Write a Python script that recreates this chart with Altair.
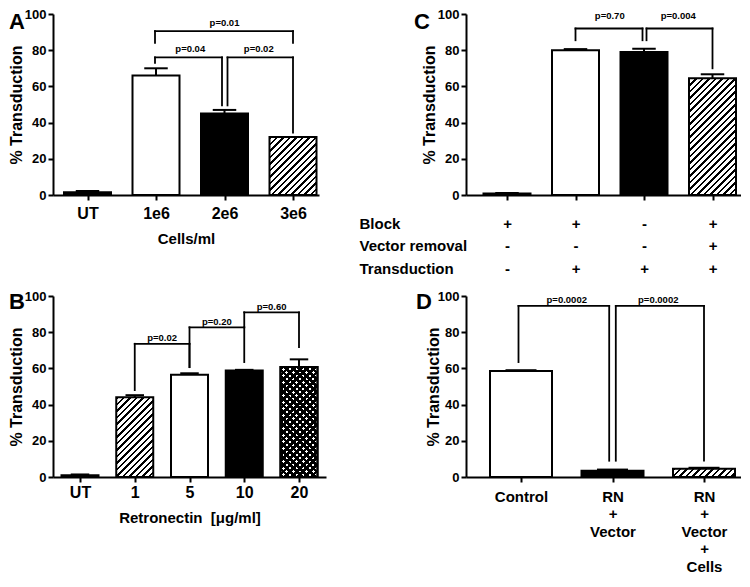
import json
import altair as alt
import pandas as pd

FONT = "Liberation Sans"

# ---------------- data ----------------
# Panel A
a_cats = ["UT", "1e6", "2e6", "3e6"]
a_vals = [1.5, 66.0, 45.0, 32.0]
a_errs = [0.7, 4.0, 2.0, 0.0]
a_fill = ["black", "white", "black", "hatch"]
a_br_from = [1, 2, 1]
a_br_to = [2, 3, 3]
a_br_top = [76.0, 76.0, 90.5]
a_br_left = [73.0, 49.5, 84.0]
a_br_right = [49.5, 34.5, 84.0]
a_br_text = ["p=0.04", "p=0.02", "p=0.01"]

# Panel B
b_cats = ["UT", "1", "5", "10", "20"]
b_vals = [1.0, 44.0, 56.5, 58.8, 60.8]
b_errs = [0.4, 1.2, 0.8, 0.4, 4.2]
b_fill = ["black", "hatch", "white", "black", "cross"]
b_br_from = [1, 2, 3]
b_br_to = [2, 3, 4]
b_br_top = [73.6, 82.7, 91.0]
b_br_left = [48.0, 60.7, 82.7]
b_br_right = [60.7, 63.5, 71.7]
b_br_text = ["p=0.02", "p=0.20", "p=0.60"]

# Panel C
c_rows = ["Block", "Vector removal", "Transduction"]
c_block = ["+", "+", "-", "+"]
c_removal = ["-", "-", "-", "+"]
c_trans = ["-", "+", "+", "+"]
c_vals = [0.8, 80.0, 79.0, 64.5]
c_errs = [0.3, 0.6, 1.8, 2.2]
c_fill = ["black", "white", "black", "hatch"]
c_br_from = [1, 2]
c_br_to = [2, 3]
c_br_top = [92.0, 92.0]
c_br_left = [85.5, 85.5]
c_br_right = [85.5, 70.0]
c_br_text = ["p=0.70", "p=0.004"]

# Panel D
d_cats = [["Control"], ["RN", "+", "Vector"], ["RN", "+", "Vector", "+", "Cells"]]
d_vals = [58.5, 3.5, 4.5]
d_errs = [0.5, 0.6, 0.6]
d_fill = ["white", "black", "hatch"]
d_br_from = [0, 1]
d_br_to = [1, 2]
d_br_top = [94.5, 94.5]
d_br_left = [63.5, 9.0]
d_br_right = [9.0, 9.0]
d_br_text = ["p=0.0002", "p=0.0002"]

# ---------------- layout / style ----------------
H = 181

STYLE = {
    "A": dict(width=266, first=34.5, step=68.5, half=23.5,
              legs=[(-1, -2.5), (3, 0), (-1, 0)], pdy=-5,
              letter=(-44, 15), ytx=-37, lab_fs=16, lab_pad=5.4, lab_lh=16,
              xtitle="Cells/ml", xtitle_y=48),
    "B": dict(width=273, first=27, step=54.75, half=18.5,
              legs=[(0, 0), (0, 0), (0, 0)], pdy=-2.5,
              letter=(-44, 13), ytx=-37, lab_fs=16, lab_pad=2.4, lab_lh=16,
              xtitle="Retronectin \u00a0[\u03bcg/ml]", xtitle_y=45),
    "C": dict(width=275, first=41, step=68.5, half=23.5,
              legs=[(0, -1.5), (2.5, 0)], pdy=-9,
              letter=(-52, 15), ytx=-37, lab_fs=15, lab_pad=16.2, lab_lh=22.5,
              xtitle=c_rows, xtitle_y=33),
    "D": dict(width=275, first=55, step=91.5, half=31,
              legs=[(-2.5, -3.3), (3.3, 0)], pdy=-3,
              letter=(-50, 13), ytx=-32.5, lab_fs=15, lab_pad=7.2, lab_lh=17.5,
              xtitle=None, xtitle_y=0),
}


def hatch_gradient(w, h, direction, period, frac, ink, paper):
    L = w + h
    stops = []
    k = 0
    while k * period < L:
        a = k * period / L
        b = min((k * period + frac * period) / L, 1.0)
        c = min((k + 1) * period / L, 1.0)
        stops += [(a, ink), (b, ink), (b, paper), (c, paper)]
        k += 1
    denom = w * w + h * h
    if direction == "/":
        x1, y1, x2, y2 = 0, 0, w * L / denom, h * L / denom
    else:
        x1, y1, x2, y2 = 0, 1, w * L / denom, 1 - h * L / denom
    return alt.LinearGradient(
        gradient="linear", x1=x1, y1=y1, x2=x2, y2=y2,
        stops=[alt.GradientStop(offset=o, color=col) for o, col in stops],
    )


def panel(key, labels, vals, errs, fills, br_from, br_to, br_top, br_left,
          br_right, br_text):
    S = STYLE[key]
    n = len(vals)
    step = S["step"]
    lo = -S["first"] / step
    hi = (S["width"] - S["first"]) / step
    half = S["half"] / step

    xscale = alt.Scale(domain=[lo, hi], nice=False, zero=False)
    yscale = alt.Scale(domain=[0, 100], nice=False, zero=True)

    xaxis_kw = dict(
        values=list(range(n)),
        labelExpr=f"{json.dumps(labels)}[datum.value]",
        labelFontSize=S["lab_fs"], labelPadding=S["lab_pad"],
        labelLineHeight=S["lab_lh"], labelFlush=False, labelOverlap=False,
        labelAlign="center", labelBaseline="top",
        ticks=True, domain=True,
    )
    if S["xtitle"] is None:
        xaxis_kw["title"] = None
    elif isinstance(S["xtitle"], list):
        xaxis_kw.update(title=S["xtitle"], titleX=-107, titleY=S["xtitle_y"],
                        titleAlign="left", titleBaseline="alphabetic",
                        titleLineHeight=22.5, titleFontSize=15, titleAngle=0)
    else:
        xaxis_kw.update(title=S["xtitle"], titleY=S["xtitle_y"],
                        titleBaseline="alphabetic", titleFontSize=15)
    xaxis = alt.Axis(**xaxis_kw)
    yaxis = alt.Axis(values=[0, 20, 40, 60, 80, 100], title="% Transduction",
                     titleFontSize=16, titleX=S["ytx"], titleY=H / 2,
                     titleAlign="center", titleBaseline="middle", titleAngle=-90,
                     labelFontSize=13, labelPadding=2)

    def X(f):
        return alt.X(f"{f}:Q", scale=xscale, axis=xaxis)

    def Y(f):
        return alt.Y(f"{f}:Q", scale=yscale, axis=yaxis)

    bars = pd.DataFrame({
        "idx": list(range(n)), "v": vals, "err": errs, "fill": fills,
    })
    bars["x0"] = bars["idx"] - half
    bars["x1"] = bars["idx"] + half
    bars["base"] = 0.0
    bars["hi"] = bars["v"] + bars["err"]
    bars["cl"] = bars["idx"] - half / 2
    bars["cr"] = bars["idx"] + half / 2

    layers = []
    solid = bars[bars["fill"].isin(["white", "black"])]
    layers.append(
        alt.Chart(solid).mark_bar(stroke="black", strokeWidth=2).encode(
            x=X("x0"), x2="x1", y=Y("v"), y2="base",
            fill=alt.Fill("fill:N", scale=None))
    )
    wpx = 2 * S["half"]
    for _, r in bars[~bars["fill"].isin(["white", "black"])].iterrows():
        hpx = r["v"] * H / 100.0
        one = bars[bars["idx"] == r["idx"]]
        if r["fill"] == "hatch":
            g = hatch_gradient(wpx, hpx, "/", 6.5, 0.38, "black", "white")
            layers.append(alt.Chart(one).mark_bar(fill=g, stroke="black", strokeWidth=2)
                          .encode(x=X("x0"), x2="x1", y=Y("v"), y2="base"))
        else:
            g1 = hatch_gradient(wpx, hpx, "/", 6.6, 0.58, "black", "white")
            g2 = hatch_gradient(wpx, hpx, "\\", 6.6, 0.58, "black", "rgba(0,0,0,0)")
            layers.append(alt.Chart(one).mark_bar(fill=g1, stroke="black", strokeWidth=2)
                          .encode(x=X("x0"), x2="x1", y=Y("v"), y2="base"))
            layers.append(alt.Chart(one).mark_bar(fill=g2, stroke="black", strokeWidth=2)
                          .encode(x=X("x0"), x2="x1", y=Y("v"), y2="base"))

    eb = bars[bars["err"] > 0]
    layers.append(alt.Chart(eb).mark_rule(color="black", strokeWidth=2)
                  .encode(x=X("idx"), y=Y("v"), y2="hi"))
    layers.append(alt.Chart(eb).mark_rule(color="black", strokeWidth=2)
                  .encode(x=X("cl"), x2="cr", y=Y("hi")))

    segs = []
    texts = []
    for i in range(len(br_from)):
        dl, dr = S["legs"][i]
        xl = br_from[i] + dl / step
        xr = br_to[i] + dr / step
        segs.append(dict(xa=xl, xb=xl, ya=br_left[i], yb=br_top[i]))
        segs.append(dict(xa=xl, xb=xr, ya=br_top[i], yb=br_top[i]))
        segs.append(dict(xa=xr, xb=xr, ya=br_right[i], yb=br_top[i]))
        texts.append(dict(xm=(br_from[i] + br_to[i]) / 2, top=br_top[i], p=br_text[i]))
    layers.append(alt.Chart(pd.DataFrame(segs))
                  .mark_rule(color="black", strokeWidth=1.8, strokeCap="square")
                  .encode(x=X("xa"), x2="xb", y=Y("ya"), y2="yb"))
    layers.append(alt.Chart(pd.DataFrame(texts))
                  .mark_text(font=FONT, fontSize=9.5, fontWeight="bold", color="black",
                             baseline="alphabetic", dy=S["pdy"])
                  .encode(x=X("xm"), y=Y("top"), text="p:N"))

    lx, ly = S["letter"]
    layers.append(alt.Chart(pd.DataFrame({"t": [key]}))
                  .mark_text(font=FONT, fontSize=22, fontWeight="bold", color="black",
                             align="left", baseline="alphabetic")
                  .encode(x=alt.value(lx), y=alt.value(ly), text="t:N"))

    return alt.layer(*layers).properties(width=S["width"], height=H)


A = panel("A", [[c] for c in a_cats], a_vals, a_errs, a_fill,
          a_br_from, a_br_to, a_br_top, a_br_left, a_br_right, a_br_text)
B = panel("B", [[c] for c in b_cats], b_vals, b_errs, b_fill,
          b_br_from, b_br_to, b_br_top, b_br_left, b_br_right, b_br_text)
C = panel("C", [[b, r, t] for b, r, t in zip(c_block, c_removal, c_trans)],
          c_vals, c_errs, c_fill,
          c_br_from, c_br_to, c_br_top, c_br_left, c_br_right, c_br_text)
D = panel("D", d_cats, d_vals, d_errs, d_fill,
          d_br_from, d_br_to, d_br_top, d_br_left, d_br_right, d_br_text)

chart = (
    alt.concat(A, C, B, D, columns=2, spacing={"row": 13, "column": 33}, align="each")
    .properties(padding=0)
    .configure_view(stroke=None)
    .configure_axis(labelFont=FONT, titleFont=FONT, labelColor="black",
                    titleColor="black", domainColor="black", tickColor="black",
                    domainWidth=2, tickWidth=2, tickSize=5, grid=False,
                    labelFontWeight="bold", titleFontWeight="bold")
)

chart.save("out.html", embed_options={"renderer": "svg", "actions": False})
